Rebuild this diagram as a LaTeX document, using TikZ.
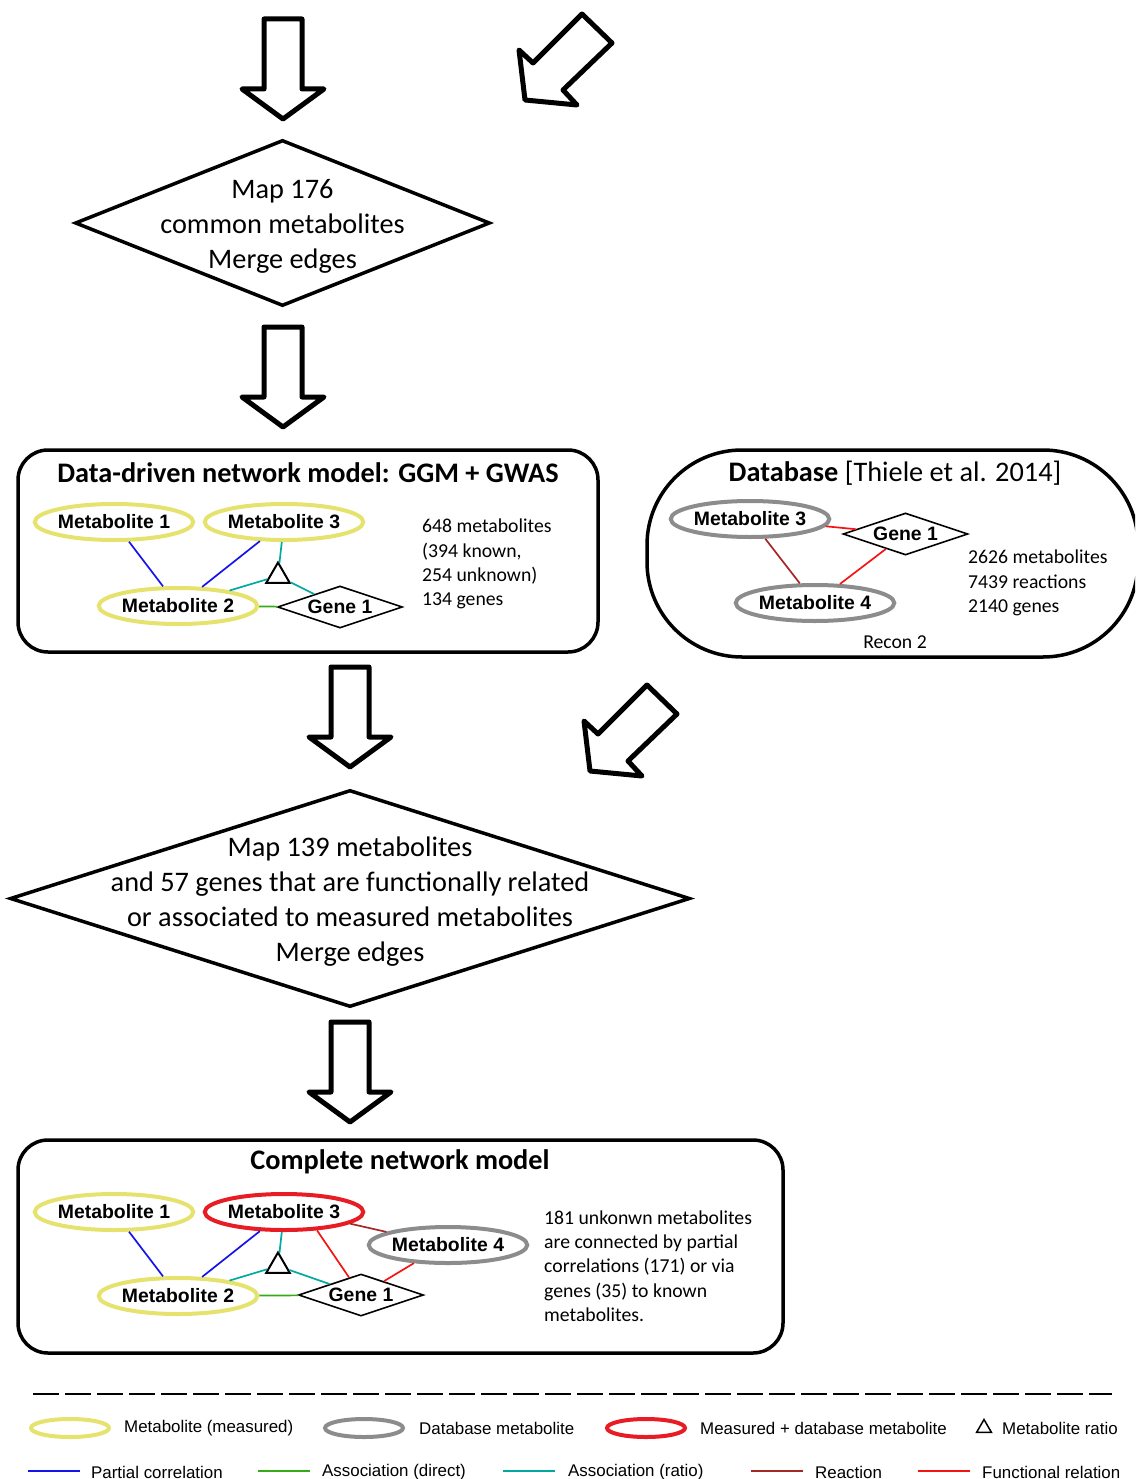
\documentclass[tikz,border=0pt]{standalone}
\usepackage{fontspec}
\setmainfont{Carlito}
\newfontfamily\arialfont{Liberation Sans}
\usetikzlibrary{shapes.geometric}

\definecolor{measyellow}{RGB}{230,226,110}
\definecolor{dbgrey}{RGB}{140,140,140}
\definecolor{bothred}{RGB}{232,28,36}
\definecolor{pcblue}{RGB}{20,20,235}
\definecolor{dirgreen}{RGB}{55,170,25}
\definecolor{ratioteal}{RGB}{0,170,160}
\definecolor{reacred}{RGB}{165,40,40}
\definecolor{funcred}{RGB}{245,20,20}

\newcommand\bigtxt{\fontsize{28.3pt}{35pt}\selectfont}
\newcommand\titletxt{\fontsize{28.3pt}{34pt}\selectfont\bfseries}
\newcommand\infotxt{\fontsize{19.7pt}{24.3pt}\selectfont}
\newcommand\labtxt{\arialfont\bfseries\fontsize{19.4pt}{22pt}\selectfont}
\newcommand\legtxt{\arialfont\fontsize{16.9pt}{20pt}\selectfont}

\begin{document}
\begin{tikzpicture}[x=1pt,y=-1pt,
  blockline/.style={draw=black, line width=5pt, line join=round, fill=white},
  downblock/.pic={\draw[blockline] (-19,0) -- (19,0) -- (19,70) -- (41,70)
      -- (0,100) -- (-41,70) -- (-19,70) -- cycle;},
  diagblock/.pic={\draw[blockline] (0,0) -- (30,29) -- (-19,76) -- (-5,91)
      -- (-57,86) -- (-63,36) -- (-49,49) -- cycle;},
  stepdiamond/.style={diamond, draw, line width=3.5pt, inner sep=0pt},
  bigtext/.style={align=center, font=\bigtxt, inner sep=0pt},
  panel/.style={draw, line width=3.5pt, rounded corners=30pt, inner sep=0pt},
  paneltitle/.style={font=\titletxt, inner sep=0pt},
  info/.style={align=left, font=\infotxt, inner sep=0pt, anchor=west},
  metab/.style={ellipse, line width=4pt, minimum width=152pt, minimum height=36pt,
      inner sep=0pt, font=\labtxt},
  meas/.style={metab, draw=measyellow},
  dbm/.style={metab, draw=dbgrey},
  both/.style={metab, draw=bothred},
  gene/.style={diamond, draw, line width=1.6pt, aspect=3, minimum width=125pt,
      minimum height=42pt, inner sep=0pt, font=\labtxt},
  ratio/.style={regular polygon, regular polygon sides=3, draw, line width=2pt,
      minimum size=27pt, inner sep=0pt},
  edge/.style={line width=1.7pt},
  pc/.style={edge, draw=pcblue},
  ad/.style={edge, draw=dirgreen},
  ar/.style={edge, draw=ratioteal},
  rx/.style={edge, draw=reacred},
  fr/.style={edge, draw=funcred},
  legell/.style={ellipse, line width=4pt, minimum width=78pt, minimum height=18pt, inner sep=0pt},
  legtext/.style={font=\legtxt, anchor=west, inner sep=0pt},
  legline/.style={line width=2pt}
]
\useasboundingbox (0,0) rectangle (1135,1479);
\clip (0,0) rectangle (1135,1479);

% ---------- block arrows ----------
\pic at (283,19) {downblock};
\pic at (582,14) {diagblock};
\pic at (283,327) {downblock};
\pic at (350,667) {downblock};
\pic at (647,685) {diagblock};
\pic at (350,1022) {downblock};

% ---------- first merge step ----------
\node[stepdiamond, minimum width=415pt, minimum height=166pt] (merge1) at (282.5,223) {};
\node[bigtext] (merge1txt) at (282.5,226) {Map 176\\common metabolites\\Merge edges};

% ---------- data-driven network ----------
\node[panel, minimum width=580pt, minimum height=202pt] (ddpanel) at (308,551) {};
\node[paneltitle] (ddtitle) at (308,473) {Data-driven network model: GGM + GWAS};
\node[meas] (a1) at (114,522) {Metabolite 1};
\node[meas] (a3) at (284,522) {Metabolite 3};
\node[meas] (a2) at (178,606) {Metabolite 2};
\node[gene] (ag) at (340,607) {Gene 1};
\node[ratio] (at) at (278,576) {};
\draw[pc] (a1) -- (a2);
\draw[pc] (a3) -- (a2);
\draw[ar] (a3) -- (at);
\draw[ar] (at) -- (a2);
\draw[ar] (at) -- (ag);
\draw[ad] (a2) -- (ag);
\node[info] (ddinfo) at (422,564) {648 metabolites\\(394 known,\\254 unknown)\\134 genes};

% ---------- database ----------
\node[panel, rounded corners=95pt, minimum width=491pt, minimum height=207pt] (dbpanel) at (892.5,553.5) {};
\node[font=\fontsize{28.3pt}{34pt}\selectfont, inner sep=0pt] (dbtitle) at (895,473) {\textbf{Database} [Thiele et al. 2014]};
\node[dbm] (b3) at (750,519) {Metabolite 3};
\node[gene] (bg) at (905.5,534) {Gene 1};
\node[dbm] (b4) at (815,603) {Metabolite 4};
\draw[fr] (b3) -- (bg);
\draw[rx] (b3) -- (b4);
\draw[fr] (bg) -- (b4);
\node[info] (dbinfo) at (968,583) {2626 metabolites\\7439 reactions\\2140 genes};
\node[font=\infotxt, inner sep=0pt] (recon) at (895,642) {Recon 2};

% ---------- second merge step ----------
\node[stepdiamond, minimum width=680pt, minimum height=217pt] (merge2) at (350,898.5) {};
\node[bigtext] (merge2txt) at (350,901.5) {Map 139 metabolites\\and 57 genes that are functionally related\\or associated to measured metabolites\\Merge edges};

% ---------- complete network ----------
\node[panel, minimum width=765pt, minimum height=213pt] (cpanel) at (400.5,1246.5) {};
\node[paneltitle] (ctitle) at (400,1162) {Complete network model};
\node[meas] (c1) at (114,1212) {Metabolite 1};
\node[both] (c3) at (284,1212) {Metabolite 3};
\node[dbm] (c4) at (448,1245) {Metabolite 4};
\node[meas] (c2) at (178,1296) {Metabolite 2};
\node[gene] (cg) at (361,1295) {Gene 1};
\node[ratio] (ct) at (278,1266) {};
\draw[pc] (c1) -- (c2);
\draw[pc] (c3) -- (c2);
\draw[ar] (c3) -- (ct);
\draw[ar] (ct) -- (c2);
\draw[ar] (ct) -- (cg);
\draw[ad] (c2) -- (cg);
\draw[fr] (c3.-29) -- (cg);
\draw[rx] (c3.-10) -- (c4.168);
\draw[fr] (c4.-152) -- (cg);
\node[info] (cinfo) at (544,1266) {181 unkonwn metabolites\\are connected by partial\\correlations (171) or via\\genes (35) to known\\metabolites.};

% ---------- legend ----------
\coordinate (sepl) at (33,1394);
\coordinate (sepr) at (1112,1394);
\draw[line width=1.5pt, dash pattern=on 26pt off 6pt] (sepl) -- (sepr);

\node[legell, draw=measyellow] (lg1) at (70,1428) {};
\node[legtext] (lt1) at (124,1428) {Metabolite (measured)};
\node[legell, draw=dbgrey] (lg2) at (364,1428) {};
\node[legtext] (lt2) at (419,1428) {Database metabolite};
\node[legell, draw=bothred] (lg3) at (646,1428) {};
\node[legtext] (lt3) at (700,1428) {Measured + database metabolite};
\node[regular polygon, regular polygon sides=3, draw, line width=1.5pt, minimum size=17pt, inner sep=0pt] (lg4) at (984,1428) {};
\node[legtext] (lt4) at (1002,1428) {Metabolite ratio};

\coordinate (l1a) at (28,1471);  \coordinate (l1b) at (80,1471);
\coordinate (l2a) at (258,1471); \coordinate (l2b) at (310,1471);
\coordinate (l3a) at (503,1471); \coordinate (l3b) at (555,1471);
\coordinate (l4a) at (751,1471); \coordinate (l4b) at (803,1471);
\coordinate (l5a) at (918,1471); \coordinate (l5b) at (970,1471);
\draw[legline, pcblue] (l1a) -- (l1b);
\draw[legline, dirgreen] (l2a) -- (l2b);
\draw[legline, ratioteal] (l3a) -- (l3b);
\draw[legline, reacred] (l4a) -- (l4b);
\draw[legline, funcred] (l5a) -- (l5b);
\node[legtext] (lt5) at (91,1472) {Partial correlation};
\node[legtext] (lt6) at (322,1472) {Association (direct)};
\node[legtext] (lt7) at (568,1472) {Association (ratio)};
\node[legtext] (lt8) at (815,1472) {Reaction};
\node[legtext] (lt9) at (982,1472) {Functional relation};
\end{tikzpicture}
\end{document}
